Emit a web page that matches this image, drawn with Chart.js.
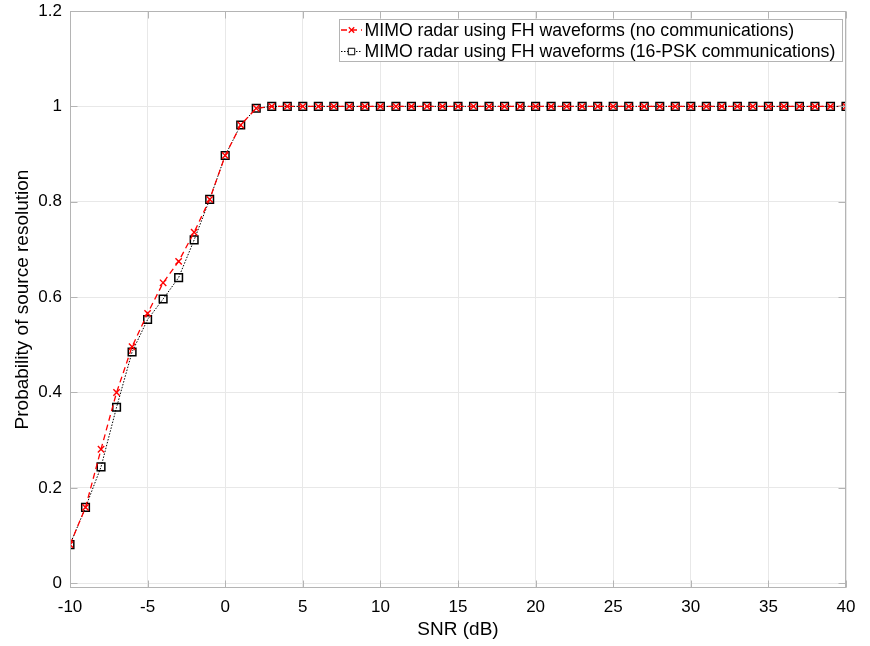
<!DOCTYPE html>
<html>
<head>
<meta charset="utf-8">
<script src="https://cdn.jsdelivr.net/npm/chart.js@4.4.1/dist/chart.umd.min.js"></script>
<style>
  html, body { margin: 0; padding: 0; background: #fff; }
  #wrap { width: 870px; height: 646px; }
</style>
</head>
<body>
<div id="wrap"><canvas id="c" width="870" height="646"></canvas></div>
<script>
// SNR grid (dB)
const snr = [-10,-9,-8,-7,-6,-5,-4,-3,-2,-1,0,1,2,3,4,5,6,7,8,9,10,11,12,13,14,15,16,17,18,19,20,
             21,22,23,24,25,26,27,28,29,30,31,32,33,34,35,36,37,38,39,40];

// Probability of resolution, no communications
const probNoComm = [0.081,0.159,0.281,0.400,0.496,0.566,0.630,0.675,0.736,0.805,0.897,0.961,0.996,
                    1,1,1,1,1,1,1,1,1,1,1,1,1,1,1,1,1,1,1,1,1,1,1,1,1,1,1,1,1,1,1,1,1,1,1,1,1,1];

// Probability of resolution, with 16-PSK communications
const prob16psk = [0.081,0.159,0.244,0.369,0.485,0.553,0.596,0.641,0.720,0.805,0.897,0.961,0.996,
                   1,1,1,1,1,1,1,1,1,1,1,1,1,1,1,1,1,1,1,1,1,1,1,1,1,1,1,1,1,1,1,1,1,1,1,1,1,1];

const seriesLabels = [
  'MIMO radar using FH waveforms (no communications)',
  'MIMO radar using FH waveforms (16-PSK communications)'
];
const xTicks = [-10,-5,0,5,10,15,20,25,30,35,40];
const yTicks = [0,0.2,0.4,0.6,0.8,1,1.2];

const FONT = '"Liberation Sans", Arial, Helvetica, sans-serif';
const AXIS_COLOR = '#b4b4b4';
const GRID_COLOR = '#e8e8e8';

const toPoints = (xs, ys) => xs.map((x, i) => ({ x: x, y: ys[i] }));

// Box around the axes plus inward-pointing tick marks
const axesBox = {
  id: 'axesBox',
  afterDatasetsDraw(chart) {
    const { ctx, chartArea: a, scales } = chart;
    ctx.save();
    ctx.strokeStyle = AXIS_COLOR;
    ctx.lineWidth = 1;
    const L = Math.round(a.left) + 0.5, R = Math.round(a.right) - 0.5;
    const T = Math.round(a.top) + 0.5, B = Math.round(a.bottom) - 0.5;
    ctx.strokeRect(L, T, R - L, B - T);
    const t = 7;
    xTicks.forEach(v => {
      const px = Math.round(scales.x.getPixelForValue(v)) + 0.5;
      ctx.beginPath();
      ctx.moveTo(px, B); ctx.lineTo(px, B - t);
      ctx.moveTo(px, T); ctx.lineTo(px, T + t);
      ctx.stroke();
    });
    yTicks.forEach(v => {
      const py = Math.round(scales.y.getPixelForValue(v)) + 0.5;
      ctx.beginPath();
      ctx.moveTo(L, py); ctx.lineTo(L + t, py);
      ctx.moveTo(R, py); ctx.lineTo(R - t, py);
      ctx.stroke();
    });
    ctx.restore();
  }
};

// Legend drawn inside the upper-right corner of the plot
const insetLegend = {
  id: 'insetLegend',
  afterDraw(chart) {
    const { ctx, chartArea: a } = chart;
    const ds = chart.data.datasets;
    ctx.save();
    ctx.font = '17.7px ' + FONT;
    const lineH = 21.5;
    const textOff = 25.5;
    let maxW = 0;
    ds.forEach(d => { maxW = Math.max(maxW, ctx.measureText(d.label).width); });
    const boxW = Math.round(textOff + maxW + 7);
    const boxH = 42;
    const x0 = Math.round(a.right - 4 - boxW);
    const y0 = Math.round(a.top + 8);
    ctx.fillStyle = '#fff';
    ctx.fillRect(x0, y0, boxW, boxH);
    ctx.strokeStyle = AXIS_COLOR;
    ctx.lineWidth = 1;
    ctx.strokeRect(x0 + 0.5, y0 + 0.5, boxW, boxH);
    ds.forEach((d, i) => {
      const cy = y0 + 11 + lineH * i;
      const sx = x0 + 2;
      ctx.strokeStyle = d.borderColor;
      ctx.lineWidth = d.borderWidth;
      ctx.setLineDash(d.borderDash || []);
      ctx.beginPath();
      ctx.moveTo(sx, cy); ctx.lineTo(sx + 21, cy);
      ctx.stroke();
      ctx.setLineDash([]);
      ctx.strokeStyle = d.pointBorderColor;
      ctx.fillStyle = '#fff';
      Chart.helpers.drawPoint(ctx, {
        pointStyle: d.pointStyle,
        radius: d.pointRadius * 0.85,
        borderWidth: d.pointBorderWidth,
        rotation: 0
      }, x0 + 12.5, cy);
      ctx.fillStyle = '#000';
      ctx.textBaseline = 'middle';
      ctx.fillText(d.label, x0 + textOff, cy + 1);
    });
    ctx.restore();
  }
};

new Chart(document.getElementById('c'), {
  type: 'line',
  data: {
    datasets: [
      {
        label: seriesLabels[0],
        data: toPoints(snr, probNoComm),
        borderColor: '#ff0000',
        borderWidth: 1.3,
        borderDash: [6, 4],
        pointStyle: 'crossRot',
        pointRadius: 4.5,
        pointBorderWidth: 1.4,
        pointBorderColor: '#ff0000',
        pointBackgroundColor: '#ff0000',
        fill: false,
        tension: 0,
        order: 1
      },
      {
        label: seriesLabels[1],
        data: toPoints(snr, prob16psk),
        borderColor: '#000000',
        borderWidth: 1,
        borderDash: [1.5, 1.5],
        pointStyle: 'rect',
        pointRadius: 5.4,
        pointBorderWidth: 1.5,
        pointBorderColor: '#000000',
        pointBackgroundColor: 'rgba(255,255,255,0)',
        fill: false,
        tension: 0,
        order: 2
      }
    ]
  },
  options: {
    responsive: false,
    animation: false,
    devicePixelRatio: 1,
    layout: { padding: { left: 0, right: 24, top: 11, bottom: 0 } },
    plugins: {
      legend: { display: false },
      tooltip: { enabled: false }
    },
    scales: {
      x: {
        type: 'linear',
        min: -10,
        max: 40,
        afterBuildTicks: s => { s.ticks = xTicks.map(v => ({ value: v })); },
        afterFit: s => { s.height = 58; s.paddingLeft = 0; s.paddingRight = 0; },
        ticks: {
          color: '#000',
          font: { family: FONT, size: 17 },
          padding: 9,
          maxRotation: 0,
          callback: v => String(v)
        },
        grid: { color: GRID_COLOR, lineWidth: 1, drawTicks: false },
        border: { display: false },
        title: {
          display: true,
          text: 'SNR (dB)',
          color: '#000',
          font: { family: FONT, size: 19 },
          padding: { top: 2, bottom: 5 }
        }
      },
      y: {
        type: 'linear',
        min: -0.01,
        max: 1.2,
        afterBuildTicks: s => { s.ticks = yTicks.map(v => ({ value: v })); },
        afterFit: s => { s.width = 70; s.paddingTop = 0; s.paddingBottom = 0; },
        ticks: {
          color: '#000',
          font: { family: FONT, size: 17 },
          padding: 8,
          callback: v => String(Math.round(v * 10) / 10)
        },
        grid: { color: GRID_COLOR, lineWidth: 1, drawTicks: false },
        border: { display: false },
        title: {
          display: true,
          text: 'Probability of source resolution',
          color: '#000',
          font: { family: FONT, size: 19 },
          padding: { top: 11, bottom: 0 }
        }
      }
    }
  },
  plugins: [axesBox, insetLegend]
});
</script>
</body>
</html>
